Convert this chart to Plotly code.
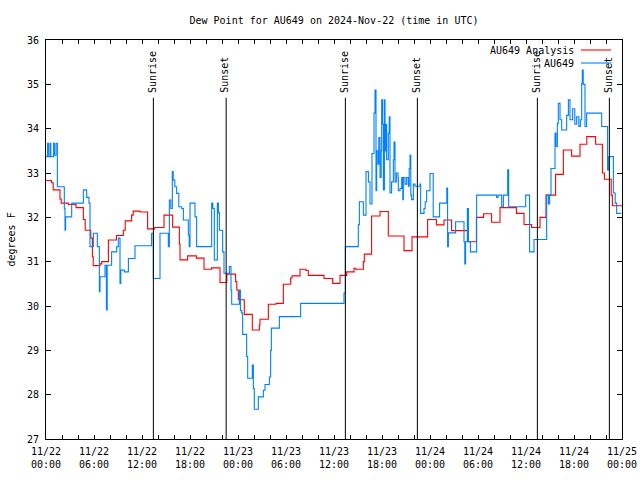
import pandas as pd
import plotly.graph_objects as go

START = pd.Timestamp("2024-11-22 00:00")
END = pd.Timestamp("2024-11-25 00:00")

# AU649 Analysis (red) - hours since start, dew point (F)
analysis_hours = [0.0, 0.7, 0.9, 1.75, 1.9, 2.8, 3.75, 4.67, 4.9, 5.6, 5.8, 5.9, 6.75, 6.96,
                  7.8, 8.8, 9.67, 9.9, 10.7, 10.9, 11.75, 12.7, 13.6, 14.75, 15.83, 16.67,
                  16.75, 17.7, 18.8, 19.75, 20.7, 21.75, 22.6, 23.7, 23.85, 24.04, 24.79,
                  25.79, 26.67, 26.75, 27.79, 28.75, 29.67, 30.58, 30.75, 31.75, 32.5, 32.79,
                  34.75, 35.83, 36.75, 37.58, 38.5, 38.71, 39.67, 39.79, 40.7, 41.75, 42.79,
                  44.75, 45.75, 47.7, 48.8, 49.75, 50.7, 52.8, 53.8, 54.7, 55.7, 56.75, 58.8,
                  59.75, 60.7, 61.75, 62.5, 63.7, 64.67, 65.7, 66.75, 67.6, 68.7, 69.55, 69.8,
                  70.65, 70.8, 72.0]
analysis_values = [32.83, 32.78, 32.62, 32.41, 32.32, 32.29, 32.22, 31.95, 31.71, 31.53, 31.11,
                   30.91, 30.95, 31.0, 31.49, 31.59, 31.71, 31.92, 32.05, 32.14, 32.12, 31.74,
                   31.77, 32.05, 31.78, 31.4, 31.04, 31.13, 31.08, 30.83, 30.86, 30.53, 30.72,
                   30.55, 30.36, 30.14, 29.81, 29.46, 29.57, 29.7, 30.04, 30.06, 30.49, 30.63,
                   30.68, 30.83, 30.8, 30.69, 30.62, 30.51, 30.69, 30.77, 30.85, 30.83, 31.0,
                   31.17, 32.03, 32.13, 31.58, 31.25, 31.56, 31.95, 31.83, 31.94, 31.7, 31.45,
                   32.0, 32.08, 31.89, 32.22, 32.09, 31.84, 31.77, 32.0, 32.5, 32.97, 33.52,
                   33.38, 33.65, 33.82, 33.65, 33.0, 32.86, 32.5, 32.26, 32.26]

# AU649 station (blue)
station_hours = [0.0, 0.2, 0.3, 0.5, 0.6, 0.95, 1.05, 1.25, 1.42, 2.29, 2.375, 2.45,
                 3.21, 4.67, 5.08, 5.375, 5.5, 5.92, 6.42, 6.67, 6.75, 7.375, 7.55, 7.65, 8.2,
                 8.83, 9.04, 9.25, 9.35, 9.8, 10.3, 11.125, 13.2, 13.42, 14.25, 15.29, 15.42,
                 15.6, 15.79, 15.9, 16.1, 16.33, 16.6, 16.96, 17.17, 17.79, 17.9, 18.0, 18.625,
                 18.83, 20.71, 20.85, 21.04, 21.42, 21.55, 21.67, 22.08, 22.25, 22.92, 23.125,
                 23.21, 24.17, 24.3, 24.46, 24.58, 25.08, 25.21, 25.79, 25.92, 26.04, 26.54,
                 27.17, 27.375, 27.92, 28.08, 28.17, 29.17, 31.83, 37.25, 37.42, 39.04, 39.17,
                 39.67, 40.0, 40.3, 40.5, 40.75, 41.0, 41.125, 41.25, 41.33, 41.5, 41.6, 41.75,
                 41.9, 41.96, 42.08, 42.17, 42.3, 42.375, 42.5, 42.58, 42.79, 42.9, 43.0, 43.2,
                 43.42, 43.5, 43.625, 43.8, 44.0, 44.04, 44.25, 44.46, 44.6, 44.67, 44.875,
                 45.08, 45.29, 45.4, 45.5, 45.6, 45.7, 45.92, 46.125, 46.75, 46.83, 47.25, 47.4,
                 47.58, 48.0, 48.4, 49.2, 50.1, 50.2, 50.3, 51.2, 52.25, 52.35, 52.45, 52.67,
                 52.8, 53.05, 53.83, 56.33, 56.5, 56.96, 57.17, 57.71, 57.83, 59.96, 60.45,
                 61.0, 62.58, 62.8, 62.95, 63.125, 63.625, 63.75, 63.92, 64.04, 64.25, 64.46,
                 65.08, 65.3, 65.5, 65.83, 66.1, 66.33, 66.6, 66.8, 66.96, 67.04, 67.15,
                 67.375, 67.58, 69.46, 70.2, 70.35, 70.92, 71.15, 71.33, 71.9]
station_values = [33.37, 33.67, 33.37, 33.67, 33.37, 33.67, 33.4, 33.67, 32.69,
                  32.2, 31.71, 32.01, 32.32, 32.62, 32.45, 32.32, 31.34, 31.64, 31.34, 30.32,
                  30.66, 30.92, 29.91, 30.92, 31.22, 31.34, 31.53, 30.51, 30.81, 30.77, 31.07,
                  31.36, 31.64, 30.62, 31.64, 31.34, 32.39, 32.2, 33.03, 32.84, 32.69, 32.54,
                  32.24, 32.2, 31.94, 31.6, 31.34, 32.32, 32.01, 31.34, 32.32, 32.2, 31.04,
                  32.32, 32.1, 31.71, 31.22, 30.74, 30.89, 30.36, 30.04, 30.36, 29.9, 29.84,
                  29.36, 28.86, 28.37, 28.67, 28.14, 27.67, 27.95, 28.1, 28.23, 28.4, 29.0,
                  29.5, 29.76, 30.06, 30.29, 31.34, 31.83, 32.35, 32.05, 33.03, 32.8, 32.3,
                  33.44, 34.35, 34.87, 32.6, 33.5, 33.2, 33.8, 32.9, 33.5, 34.65, 34.1, 32.62,
                  34.65, 33.5, 34.1, 33.3, 33.9, 34.27, 32.55, 32.8, 33.3, 33.7, 32.8, 33.0,
                  32.9, 32.6, 32.65, 32.9, 32.4, 32.9, 32.75, 32.9, 32.7, 33.1, 33.4, 32.5,
                  32.4, 32.75, 32.7, 32.75, 32.09, 32.2, 32.35, 32.6, 32.99, 32.01, 32.32,
                  32.66, 31.34, 31.65, 31.9, 31.45, 30.95, 31.45, 32.2, 31.45, 31.22, 32.5,
                  32.45, 32.5, 32.24, 32.5, 33.07, 32.24, 32.5, 31.22, 31.5, 32.5, 32.3, 32.5,
                  33.1, 33.9, 33.6, 34.12, 34.57, 34.2, 33.97, 34.3, 34.65, 34.2, 34.45, 34.1,
                  34.27, 34.05, 34.2, 35.02, 35.32, 35.0, 34.05, 34.35, 34.05, 33.07, 33.37,
                  32.55, 32.32, 32.09, 32.09]

sun_labels = ["Sunrise", "Sunset", "Sunrise", "Sunset", "Sunrise", "Sunset"]
sun_hours = [13.42, 22.52, 37.42, 46.42, 61.42, 70.42]

y_ticks = [27, 28, 29, 30, 31, 32, 33, 34, 35, 36]

FONT = "DejaVu Sans Mono"
RED = "#ff0000"
BLUE = "#0080ff"


def to_time(hours):
    return START + pd.to_timedelta(hours, unit="h")


fig = go.Figure()
fig.add_trace(go.Scatter(x=to_time(analysis_hours), y=analysis_values, mode="lines",
                         line=dict(color=RED, width=1.1, shape="hv"),
                         name="AU649 Analysis", showlegend=False))
fig.add_trace(go.Scatter(x=to_time(station_hours), y=station_values, mode="lines",
                         line=dict(color=BLUE, width=1.1, shape="hv"),
                         name="AU649", showlegend=False))

line_top = 0.855
for lbl, h in zip(sun_labels, sun_hours):
    t = to_time(h)
    fig.add_shape(type="line", xref="x", yref="paper", x0=t, x1=t, y0=0, y1=line_top,
                  line=dict(color="black", width=1))
    fig.add_annotation(x=t, xref="x", y=line_top + 0.008, yref="paper", text=lbl,
                       textangle=-90, showarrow=False, xanchor="center", yanchor="bottom",
                       xshift=-1, font=dict(family=FONT, size=10, color="black"))

# legend (gnuplot style: text right-aligned, sample line on the right)
W, H = 576.0, 399.0
leg_items = [("AU649 Analysis", RED), ("AU649", BLUE)]
for i, (txt, col) in enumerate(leg_items):
    ypx = 50 + i * 13
    yp = (439 - ypx) / H
    fig.add_annotation(x=(576 - 46) / W, xref="paper", y=yp, yref="paper", text=txt,
                       showarrow=False, xanchor="right", yanchor="middle",
                       font=dict(family=FONT, size=10, color="black"))
    fig.add_shape(type="line", xref="paper", yref="paper", x0=(581 - 46) / W,
                  x1=(611 - 46) / W, y0=yp, y1=yp, line=dict(color=col, width=1.1))

# y axis title
fig.add_annotation(x=(11 - 46) / W, xref="paper", y=0.5, yref="paper", text="degrees F",
                   textangle=-90, showarrow=False, xanchor="center", yanchor="middle",
                   font=dict(family=FONT, size=10, color="black"))

fig.update_layout(
    width=640, height=480,
    margin=dict(l=46, r=18, t=40, b=41, autoexpand=False),
    paper_bgcolor="white", plot_bgcolor="white",
    font=dict(family=FONT, size=10, color="black"),
    title=dict(text="Dew Point for AU649 on 2024-Nov-22 (time in UTC)",
               x=0.5, xref="paper", xanchor="center",
               y=1 - 20 / 480, yref="container", yanchor="middle",
               font=dict(family=FONT, size=10, color="black")),
    showlegend=False,
)
fig.update_xaxes(
    type="date", range=[START, END], showgrid=False, zeroline=False, automargin=False,
    showline=True, linecolor="black", linewidth=1, mirror="ticks",
    ticks="inside", ticklen=4, tickcolor="black", tickwidth=1,
    tick0=START, dtick=6 * 3600 * 1000, tickformat="%m/%d<br>%H:%M",
    ticklabelstandoff=3,
    minor=dict(ticks="inside", ticklen=4, tickcolor="black", dtick=2 * 3600 * 1000,
               tick0=START, showgrid=False),
    tickfont=dict(family=FONT, size=10, color="black"),
)
fig.update_yaxes(
    range=[27, 36], showgrid=False, zeroline=False, automargin=False,
    showline=True, linecolor="black", linewidth=1, mirror="ticks",
    ticks="inside", ticklen=5, tickcolor="black", tickwidth=1,
    tickmode="array", tickvals=y_ticks, ticktext=[str(v) for v in y_ticks],
    ticklabelstandoff=4,
    tickfont=dict(family=FONT, size=10, color="black"),
)

fig.write_html("out.html", config={"displayModeBar": False},
               post_script="document.body.style.margin='0';document.body.style.padding='0';")
